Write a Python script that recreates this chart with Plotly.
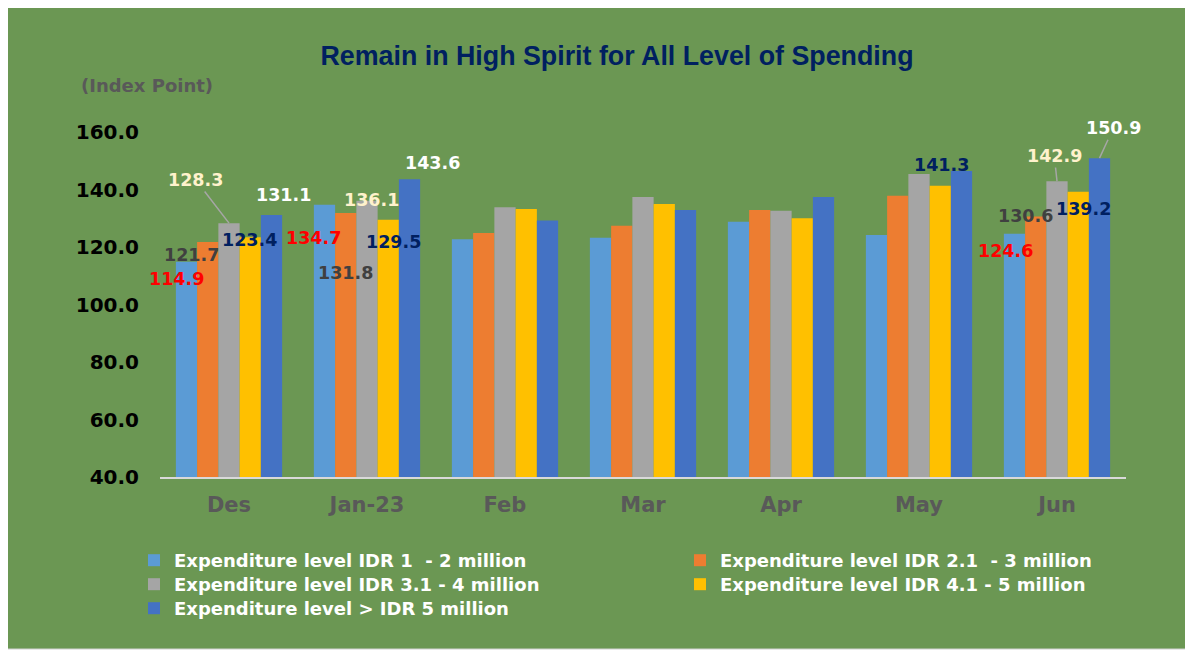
import plotly.graph_objects as go

# ---------------- data ----------------
categories = ["Des", "Jan-23", "Feb", "Mar", "Apr", "May", "Jun"]
series_names = [
    "Expenditure level IDR 1\u00a0 - 2 million",
    "Expenditure level IDR 2.1\u00a0 - 3 million",
    "Expenditure level IDR 3.1 - 4 million",
    "Expenditure level IDR 4.1 - 5 million",
    "Expenditure level > IDR 5 million",
]
idr_1_2 = [114.9, 134.7, 122.7, 123.2, 128.8, 124.2, 124.6]
idr_2_3 = [121.7, 131.8, 124.9, 127.4, 132.9, 137.8, 130.6]
idr_3_4 = [128.3, 136.1, 133.8, 137.4, 132.6, 145.4, 142.9]
idr_4_5 = [123.4, 129.5, 133.2, 135.0, 130.0, 141.3, 139.2]
idr_5_plus = [131.1, 143.6, 129.2, 132.9, 137.4, 146.4, 150.9]
series_values = [idr_1_2, idr_2_3, idr_3_4, idr_4_5, idr_5_plus]
y_ticks = [40, 60, 80, 100, 120, 140, 160]

# ---------------- styles ----------------
bar_colors = ["#5B9BD5", "#ED7D31", "#A5A5A5", "#FFC000", "#4472C4"]
label_colors = ["#FF0000", "#404040", "#FFF2CC", "#002060", "#FFFFFF"]
BG = "#6B9753"
FONT = "DejaVu Sans"

# legend entry positions (page px): left edge of legend box, row centre
legend_pos = [(134, 561), (680, 561), (134, 585), (680, 585), (134, 609)]

# data-label placement: (series, category, dx px, dy px (up +), leader line)
label_specs = [
    (0, 0, -52.7, -17.6, False),
    (1, 0, -37.3, -12.9, False),
    (2, 0, -33.2, 43.1, True),
    (3, 0, 20.8, -2.8, False),
    (4, 0, 54.8, 20.1, False),
    (0, 1, -53.7, -33.6, False),
    (1, 1, -21.2, -60.2, False),
    (2, 1, 4.7, 0.7, False),
    (3, 1, 26.2, -22.6, False),
    (4, 1, 65.0, 15.8, False),
    (3, 5, 22.0, 20.8, False),
    (0, 6, -51.8, -17.2, False),
    (1, 6, -31.2, 0.5, False),
    (2, 6, -2.7, 25.2, True),
    (3, 6, 26.8, -17.5, False),
    (4, 6, 13.8, 29.9, True),
]

# ---------------- layout geometry ----------------
OFF = 8                      # page body margin
W, H = 1193 - OFF, 657 - OFF
PLOT_L, PLOT_R, PLOT_T, PLOT_B = 160, 1126, 132, 477   # page px
ML, MR = PLOT_L - OFF, W - (PLOT_R - OFF)
MT, MB = PLOT_T - OFF, H - (PLOT_B - OFF)
PW = PLOT_R - PLOT_L
PH = PLOT_B - PLOT_T
BAR_W = PW / len(categories) * 0.77 / len(series_values)


def xp(px):  # page px -> paper x
    return (px - PLOT_L) / PW


def yp(py):  # page px -> paper y
    return (PLOT_B - py) / PH


fig = go.Figure()
legend_ids = ["legend"] + [f"legend{i}" for i in range(2, len(series_names) + 1)]
for name, vals, col, lg in zip(series_names, series_values, bar_colors, legend_ids):
    fig.add_trace(go.Bar(x=categories, y=vals, name=name, marker_color=col,
                         marker_line_width=0, legend=lg, showlegend=True))

annotations = []
for s, c, dx, dy, leader in label_specs:
    v = series_values[s][c]
    txt = f"{v:.1f}"
    font = dict(family=FONT, size=17.5, color=label_colors[s], weight="bold")
    if leader:
        annotations.append(dict(
            x=categories[c], y=v, xref="x", yref="y", text=txt, font=font,
            xshift=(s - 2) * BAR_W, showarrow=True, arrowhead=0, arrowwidth=1.5,
            arrowcolor="#A6A6A6", ax=dx, ay=-dy, standoff=0,
        ))
    else:
        annotations.append(dict(
            x=categories[c], y=v, xref="x", yref="y", text=txt, font=font,
            xshift=dx, yshift=dy, showarrow=False,
            xanchor="center", yanchor="middle",
        ))

annotations.append(dict(
    text="(Index Point)", xref="paper", yref="paper",
    x=xp(79), y=yp(85), xanchor="left", yanchor="middle",
    showarrow=False, font=dict(family=FONT, size=18, color="#595959", weight="bold"),
))

legend_font = dict(family=FONT, size=18, color="#FFFFFF", weight="bold")
legends = {}
for lg, (lx, ly) in zip(legend_ids, legend_pos):
    legends[lg] = dict(
        orientation="v", x=xp(lx), y=yp(ly - 19), xanchor="left", yanchor="top",
        font=legend_font, bgcolor="rgba(0,0,0,0)", visible=True,
    )

fig.update_layout(
    width=W, height=H,
    showlegend=True,
    margin=dict(l=ML, r=MR, t=MT, b=MB, autoexpand=False),
    paper_bgcolor="white",
    plot_bgcolor="rgba(0,0,0,0)",
    barmode="group", bargap=0.23, bargroupgap=0,
    title=dict(
        text="Remain in High Spirit for All Level of Spending",
        x=(617 - OFF) / W, y=1 - (56 - OFF) / H, xref="container", yref="container",
        xanchor="center", yanchor="middle",
        font=dict(family="Liberation Sans", size=26.8, color="#002060", weight="bold"),
    ),
    xaxis=dict(
        range=[-0.5, len(categories) - 0.5], autorange=False,
        showgrid=False, showline=True, linecolor="#D9D9D9", linewidth=2,
        ticks="", tickfont=dict(family=FONT, size=21, color="#595959", weight="bold"),
        ticklabelstandoff=8, zeroline=False, automargin=False,
    ),
    yaxis=dict(
        range=[40, 160], autorange=False, tickvals=y_ticks, tickformat=".1f",
        showgrid=False, showline=False, zeroline=False, ticks="",
        tickfont=dict(family=FONT, size=20, color="#000000", weight="bold"),
        ticklabelstandoff=20, automargin=False,
    ),
    annotations=annotations,
    shapes=[dict(
        type="rect", xref="paper", yref="paper", layer="below",
        x0=xp(6), x1=xp(1189), y0=yp(649), y1=yp(4),
        fillcolor=BG, line=dict(color="#D0D0D0", width=1),
    )],
    **legends,
)

fig.write_html("out.html")
